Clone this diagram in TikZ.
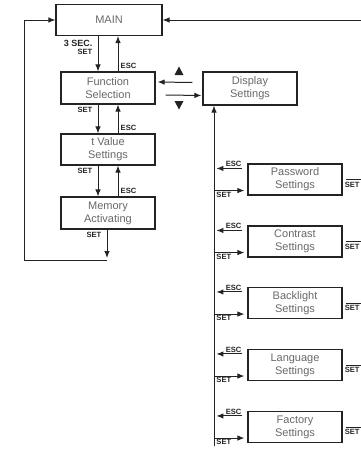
\documentclass[tikz,border=0pt]{standalone}
\usepackage{fontspec}
\setmainfont{Liberation Sans}
\usetikzlibrary{arrows.meta,positioning,calc}
\definecolor{linec}{RGB}{35,35,35}
\definecolor{txtc}{RGB}{105,105,105}
\tikzset{
  box/.style={draw=linec, line width=1.1pt, fill=white, text=txtc, align=center,
    font=\fontsize{11}{13}\selectfont, inner sep=0pt},
  menubox/.style={box, minimum width=94pt, minimum height=31pt},
  arr/.style={draw=linec, line width=1pt, -{Latex[length=7pt,width=5.5pt]}},
  plain/.style={draw=linec, line width=1pt},
  lab/.style={font=\bfseries\fontsize{7.6}{8.5}\selectfont, text=black!85, inner sep=0.5pt},
}
\begin{document}
\begin{tikzpicture}[x=1pt,y=-1pt]
\useasboundingbox (0,0) rectangle (360,450);

% left column
\node[box, minimum width=106pt, minimum height=31pt] (main) at (109,20) {MAIN};
\node[menubox, minimum height=32pt] (func) at (108,88) {Function\\Selection};
\node[menubox] (tval) at (108,149.5) {t Value\\Settings};
\node[menubox, minimum height=32pt] (mem) at (108,213) {Memory\\Activating};

% display settings
\node[menubox, minimum height=33pt] (disp) at (250,88.5) {Display\\Settings};

% submenus
\node[menubox] (pw) at (295,179.5) {Password\\Settings};
\node[menubox] (ct) at (295,241.5) {Contrast\\Settings};
\node[menubox] (bl) at (295,303) {Backlight\\Settings};
\node[menubox] (lg) at (295,365) {Language\\Settings};
\node[menubox] (fc) at (295,427) {Factory\\Settings};

% MAIN <-> Function Selection
\draw[arr] ([xshift=-11pt]main.south) -- ([xshift=-10pt]func.north);
\draw[arr] ([xshift=10pt]func.north) -- ([xshift=9pt]main.south);
\node[lab, font=\bfseries\fontsize{9}{10}\selectfont, anchor=north east] (l3s) at ([xshift=-16pt,yshift=-3pt]main.south) {3 SEC.};
\node[lab, anchor=north east] (l1s) at ([yshift=-2pt]l3s.south east) {SET};
\node[lab, anchor=south west] (l1e) at ([xshift=12pt,yshift=2pt]func.north) {ESC};

% Function Selection <-> t Value
\draw[arr] ([xshift=-10pt]func.south) -- ([xshift=-10pt]tval.north);
\draw[arr] ([xshift=10pt]tval.north) -- ([xshift=10pt]func.south);
\node[lab, anchor=north east] (l2s) at ([xshift=-15pt,yshift=-2pt]func.south) {SET};
\node[lab, anchor=south west] (l2e) at ([xshift=12pt,yshift=2pt]tval.north) {ESC};

% t Value <-> Memory
\draw[arr] ([xshift=-10pt]tval.south) -- ([xshift=-10pt]mem.north);
\draw[arr] ([xshift=10pt]mem.north) -- ([xshift=10pt]tval.south);
\node[lab, anchor=north east] (l4s) at ([xshift=-15pt,yshift=-2pt]tval.south) {SET};
\node[lab, anchor=south west] (l4e) at ([xshift=12pt,yshift=2pt]mem.north) {ESC};

% Memory SET -> loop back to MAIN
\coordinate (br) at (107,260);
\coordinate (bll) at (24,260);
\draw[arr] ([xshift=-1pt]mem.south) -- ([yshift=2pt]br);
\node[lab, anchor=north east] (l5s) at ([xshift=-6pt,yshift=-2pt]mem.south) {SET};
\draw[arr] (br) -- (bll) -- (bll |- main.west) -- (main.west);

% right line into MAIN
\coordinate (rt) at (362,20);
\draw[arr] (rt) -- (main.east);

% Function Selection <-> Display
\draw[arr] ([xshift=-10pt,yshift=6pt]disp.west) -- ([xshift=2pt,yshift=6pt]func.east);
\draw[arr] ([xshift=10pt,yshift=-7pt]func.east) -- ([xshift=-1pt,yshift=-7pt]disp.west);
\fill[linec] (174.5,75) -- (183.5,75) -- (179,66.5) -- cycle;
\fill[linec] (174.5,101) -- (183.5,101) -- (179,109.5) -- cycle;

% Display vertical bus
\coordinate (dbot) at (214,446);
\draw[arr] (dbot) -- (dbot |- disp.south);

% submenu arrows
\foreach \b in {pw,ct,bl,lg,fc}{
  \draw[arr] ([xshift=-5pt,yshift=-5pt]\b.north west) -- ([xshift=-31pt,yshift=-5pt]\b.north west)
    node[lab, pos=0, anchor=south east, yshift=0.5pt] {ESC};
  \draw[arr] ([xshift=-32pt,yshift=5pt]\b.south west) -- ([xshift=-3pt,yshift=5pt]\b.south west)
    node[lab, pos=0, anchor=north west, yshift=-0.5pt] {SET};
  \draw[plain] ([xshift=3pt]\b.east) -- ++(20,0);
  \node[lab, anchor=north west] at ([xshift=1.5pt,yshift=-1.5pt]\b.east) {SET};
}
\end{tikzpicture}
\end{document}
